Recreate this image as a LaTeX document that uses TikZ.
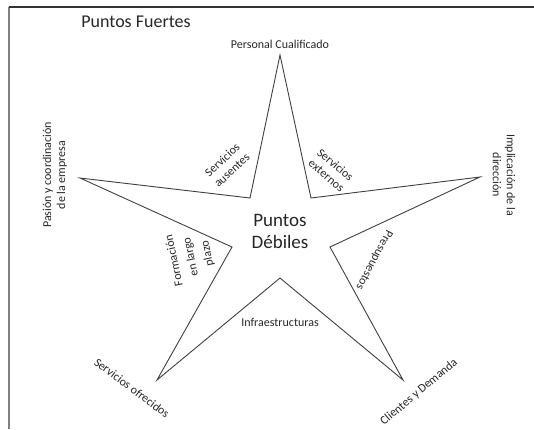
\documentclass[tikz,border=0pt]{standalone}
\usepackage{fontspec}
\setmainfont{Carlito}
\usepackage{tikz}
\usetikzlibrary{positioning}

\begin{document}
\begin{tikzpicture}[x=1pt, y=-1pt,
    lbl/.style={text=black!85, font=\fontsize{12}{14}\selectfont, align=center, inner sep=0pt},
    big/.style={text=black!85, font=\fontsize{19}{22}\selectfont, align=center, inner sep=0pt},
    star/.style={draw=black!75, line width=0.9pt, line join=miter},
    frame/.style={draw=black!50, line width=2pt}]
        \useasboundingbox (0,0) rectangle (534,429);
        % frame
        \coordinate (f_0) at (8.5,429);
        \coordinate (f_1) at (8.5,7);
        \coordinate (f_2) at (534,7);
        \draw[frame] (f_0) -- (f_1);
        \draw[black!80, line width=2pt] (f_1) -- (f_2);
        % star, outer points and inner corners
        \coordinate (s_t)  at (280,55);
        \coordinate (s_r)  at (480,177);
        \coordinate (s_br) at (403,380);
        \coordinate (s_bl) at (157,380);
        \coordinate (s_l)  at (80,178);
        \coordinate (i_tr) at (311,198);
        \coordinate (i_r)  at (330,247);
        \coordinate (i_b)  at (280,278);
        \coordinate (i_l)  at (232,247);
        \coordinate (i_tl) at (250,198);
        \draw[star] (s_t) -- (i_tr) -- (s_r) -- (i_r) -- (s_br) -- (i_b)
                    -- (s_bl) -- (i_l) -- (s_l) -- (i_tl) -- cycle;

        \node[text=black!85, font=\fontsize{18}{20}\selectfont, inner sep=0pt] (fuertes) at (136,22) {Puntos Fuertes};
        \node[big]  (debiles)  at (280,231) {Puntos\\Débiles};
        \node[lbl]  (personal) [above=6pt of s_t] {Personal Cualificado};
        \node[lbl, rotate=90]  (pasion)   at (55,175)  {Pasión y coordinación\\de la empresa};
        \node[lbl, rotate=-90] (implic)   at (504,175) {Implicación de la\\dirección};
        \node[lbl, rotate=43]  (ausentes) at (227,165) {Servicios\\ausentes};
        \node[lbl, rotate=-40] (externos) at (331,170) {Servicios\\externos};
        \node[lbl, rotate=102, font=\fontsize{12}{17}\selectfont] (formacion) at (191,257) {Formación\\en largo\\plazo};
        \node[lbl, rotate=242] (presup)   at (374,260) {Presupuestos};
        \node[lbl]             (infra)    at (280,322) {Infraestructuras};
        \node[lbl, rotate=-37] (ofrecidos) at (132,388) {Servicios ofrecidos};
        \node[lbl, rotate=40]  (clientes) at (419,392) {Clientes y Demanda};
\end{tikzpicture}
\end{document}
